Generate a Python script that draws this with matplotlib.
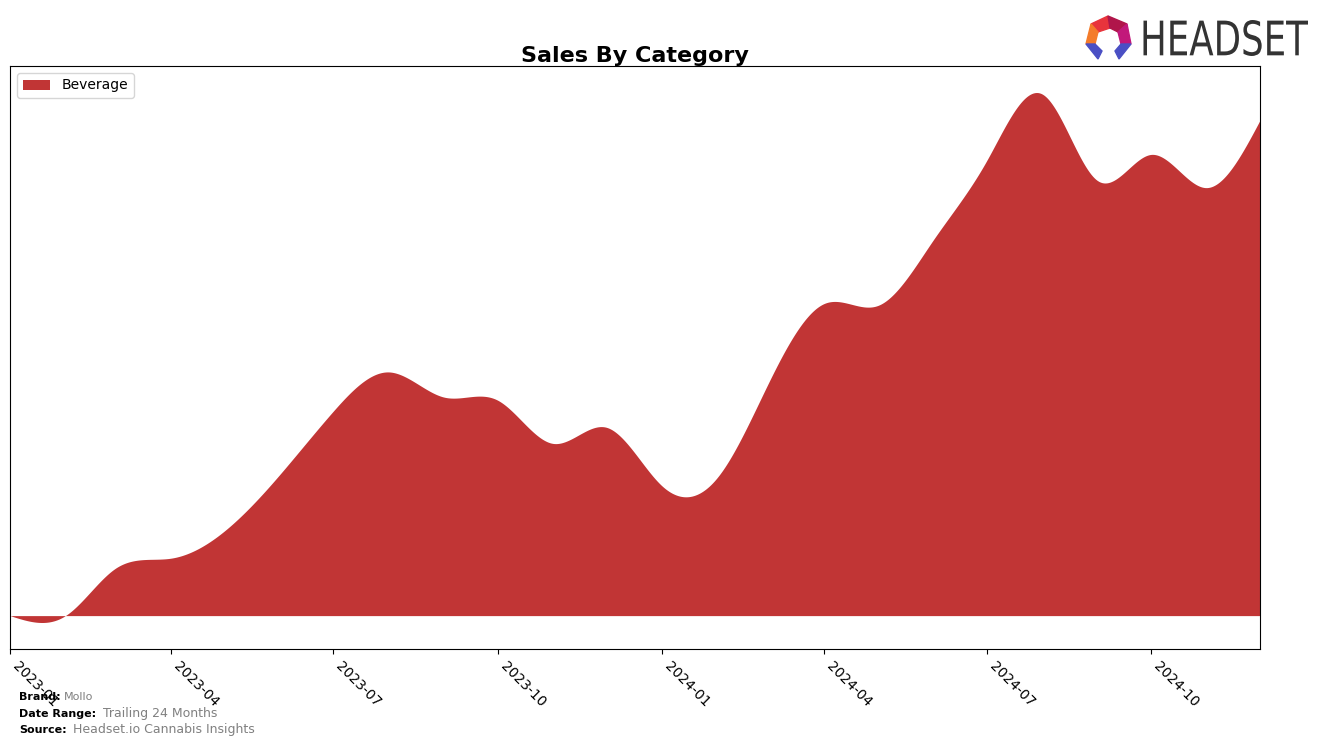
import numpy as np
import pandas as pd
import matplotlib
matplotlib.use("Agg")
import matplotlib.pyplot as plt
import matplotlib.dates as mdates
from matplotlib.patches import Polygon, PathPatch
from matplotlib.textpath import TextPath
from matplotlib.font_manager import FontProperties
from matplotlib.path import Path

# monthly sales, Beverage (relative units)
months = pd.date_range("2023-01-01", "2024-12-01", freq="MS")
beverage = [0, 0, 47, 57, 84, 140, 203, 242, 217, 214, 171, 187,
            129, 137, 232, 310, 308, 373, 452, 518, 432, 458, 425, 492]
tick_dates = pd.date_range("2023-01-01", "2024-10-01", freq="3MS")
tick_labels = [d.strftime("%Y-%m") for d in tick_dates]


def natural_spline(x, y, xs):
    x = np.asarray(x, float)
    y = np.asarray(y, float)
    n = len(x)
    h = np.diff(x)
    A = np.zeros((n, n))
    b = np.zeros(n)
    A[0, 0] = 1
    A[-1, -1] = 1
    for i in range(1, n - 1):
        A[i, i - 1] = h[i - 1]
        A[i, i] = 2 * (h[i - 1] + h[i])
        A[i, i + 1] = h[i]
        b[i] = 3 * ((y[i + 1] - y[i]) / h[i] - (y[i] - y[i - 1]) / h[i - 1])
    c = np.linalg.solve(A, b)
    idx = np.clip(np.searchsorted(x, xs) - 1, 0, n - 2)
    dx = xs - x[idx]
    bb = (y[idx + 1] - y[idx]) / h[idx] - h[idx] * (2 * c[idx] + c[idx + 1]) / 3
    d = (c[idx + 1] - c[idx]) / (3 * h[idx])
    return y[idx] + bb * dx + c[idx] * dx ** 2 + d * dx ** 3


xnum = mdates.date2num(months)
xs = np.linspace(xnum[0], xnum[-1], 800)
ys = natural_spline(xnum, beverage, xs)

fig = plt.figure(figsize=(13.24, 7.46), dpi=100)
ax = fig.add_axes([10 / 1324, 1 - 649 / 746, 1250 / 1324, 583 / 746])

ax.fill_between(xs, 0, ys, color="#c13535", linewidth=0, label="Beverage")
ax.set_xlim(xnum[0], xnum[-1])
ax.set_yticks([])
ax.set_xticks(mdates.date2num(tick_dates))
ax.set_xticklabels(tick_labels, rotation=-45, ha="left", va="top", fontsize=10)
ax.set_title("Sales By Category", fontsize=16, fontweight="bold", pad=3)
ax.legend(loc="upper left", fontsize=10, handlelength=2)

# footer
fig.text(19 / 1324, 1 - 697 / 746, "Brand:", fontsize=8, fontweight="bold", va="center")
fig.text(64 / 1324, 1 - 697 / 746, "Mollo", fontsize=8, color="gray", va="center")
fig.text(19 / 1324, 1 - 714 / 746, "Date Range:", fontsize=8, fontweight="bold", va="center")
fig.text(103 / 1324, 1 - 714 / 746, "Trailing 24 Months", fontsize=9, color="gray", va="center")
fig.text(19 / 1324, 1 - 730 / 746, "Source:", fontsize=8, fontweight="bold", va="center")
fig.text(73 / 1324, 1 - 730 / 746, "Headset.io Cannabis Insights", fontsize=9, color="gray", va="center")


# logo
def px(x, y):
    return (x / 1324, 1 - y / 746)


logo = [
    ([(1091, 24), (1108, 16), (1110, 28), (1098, 32)], "#e8343c"),
    ([(1108, 16), (1127, 24), (1118, 32), (1110, 28)], "#b0154a"),
    ([(1127, 24), (1131, 44), (1121, 44), (1118, 32)], "#c2187a"),
    ([(1091, 24), (1098, 32), (1095, 44), (1086, 44)], "#f47b2a"),
    ([(1086, 44), (1095, 44), (1102, 51), (1098, 59)], "#4a4fc4"),
    ([(1131, 44), (1121, 44), (1115, 51), (1119, 59)], "#4a4fc4"),
]
for pts, col in logo:
    fig.patches.append(Polygon([px(*p) for p in pts], closed=True, color=col,
                               transform=fig.transFigure, figure=fig))

# condensed "HEADSET" word mark: text path squeezed into the logo box
tp = TextPath((0, 0), "HEADSET", size=1, prop=FontProperties(family="DejaVu Sans"))
v = tp.vertices.copy()
x0, y0 = v.min(axis=0)
x1, y1 = v.max(axis=0)
left, right, top, bottom = 1140, 1308, 20, 56
v[:, 0] = (left + (v[:, 0] - x0) / (x1 - x0) * (right - left)) / 1324
v[:, 1] = 1 - (bottom - (v[:, 1] - y0) / (y1 - y0) * (bottom - top)) / 746
fig.patches.append(PathPatch(Path(v, tp.codes), color="#333333", lw=0,
                             transform=fig.transFigure, figure=fig))

fig.savefig("out.png", dpi=100)
